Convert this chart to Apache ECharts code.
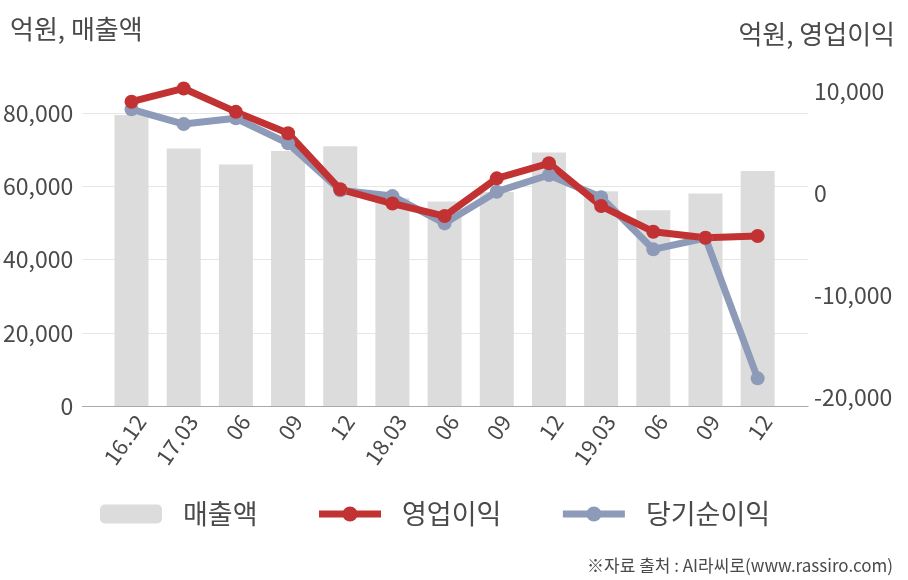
<!DOCTYPE html>
<html>
<head>
<meta charset="utf-8">
<script src="https://cdn.jsdelivr.net/npm/echarts@6/dist/echarts.min.js"></script>
<style>
html,body{margin:0;padding:0;background:#fff;}
#chart{width:908px;height:580px;}
</style>
</head>
<body>
<div id="chart"></div>
<script>
const categories = ['16.12','17.03','06','09','12','18.03','06','09','12','19.03','06','09','12'];
const sales = [79500, 70400, 66000, 69700, 71000, 56800, 55900, 58500, 69300, 58700, 53500, 58100, 64200];
const operatingProfit = [9000, 10300, 8000, 5900, 400, -1000, -2230, 1470, 2950, -1250, -3770, -4360, -4190];
const netProfit = [8250, 6800, 7370, 4910, 300, -270, -2950, 160, 1800, -390, -5500, -4390, -18170];
const leftTicks = [0, 20000, 40000, 60000, 80000];
const rightTicks = [-20000, -10000, 0, 10000];

const FONT = '"Noto Sans CJK KR", "Noto Sans", sans-serif';
const TXT = '#4a4a4a';
const idx = categories.map((c, i) => i);
const pair = arr => arr.map((v, i) => [idx[i], v]);
const fmt = v => v.toLocaleString('en-US');

const chart = echarts.init(document.getElementById('chart'), null, {renderer: 'canvas'});
chart.setOption({
  animation: false,
  backgroundColor: '#ffffff',
  textStyle: {fontFamily: FONT},
  title: [
    {text: '억원, 매출액', left: 10, top: 16, padding: 0, textStyle: {fontFamily: FONT, fontSize: 26, fontWeight: 'normal', color: TXT}},
    {text: '억원, 영업이익', right: 13, top: 21, padding: 0, textStyle: {fontFamily: FONT, fontSize: 26, fontWeight: 'normal', color: TXT}},
    {text: '※자료 출처 : AI라씨로(www.rassiro.com)', right: 15, top: 557, padding: 0, textStyle: {fontFamily: FONT, fontSize: 17, fontWeight: 'normal', color: TXT}}
  ],
  legend: {
    left: 100, top: 500, padding: 0,
    itemWidth: 62, itemHeight: 19, itemGap: 58,
    data: ['매출액', '영업이익', '당기순이익'],
    lineStyle: {width: 7},
    textStyle: {fontFamily: FONT, fontSize: 27, color: TXT, padding: [0, 0, 0, 16], lineHeight: 28}
  },
  grid: {left: 82, right: 100, top: 76.7, bottom: 174},
  xAxis: {
    type: 'value',
    min: -0.945, max: 12.965,
    axisLine: {show: true, lineStyle: {color: '#aaaaaa', width: 1}},
    axisTick: {show: false, customValues: idx},
    splitLine: {show: false},
    axisLabel: {
      customValues: idx,
      rotate: 55, margin: 5,
      verticalAlign: 'top',
      fontFamily: FONT, fontSize: 22, color: TXT,
      formatter: v => categories[Math.round(v)]
    }
  },
  yAxis: [
    {
      type: 'value', position: 'left', min: 0, max: 90000,
      axisLine: {show: false}, axisTick: {show: false, customValues: leftTicks},
      splitLine: {show: true, lineStyle: {color: '#e6e6e6', width: 1}},
      axisLabel: {customValues: leftTicks, margin: 9, fontFamily: FONT, fontSize: 23, color: TXT, formatter: fmt}
    },
    {
      type: 'value', position: 'right', min: -20884, max: 11454,
      axisLine: {show: false}, axisTick: {show: false, customValues: rightTicks},
      splitLine: {show: false},
      axisLabel: {customValues: rightTicks, margin: 6, fontFamily: FONT, fontSize: 23, color: TXT, formatter: fmt}
    }
  ],
  series: [
    {
      name: '매출액', type: 'bar', yAxisIndex: 0, barWidth: 34,
      itemStyle: {color: '#dcdcdc'},
      data: pair(sales)
    },
    {
      name: '당기순이익', type: 'line', yAxisIndex: 1,
      symbol: 'circle', symbolSize: 14,
      lineStyle: {color: '#8d9ab8', width: 7},
      itemStyle: {color: '#8d9ab8'},
      data: pair(netProfit)
    },
    {
      name: '영업이익', type: 'line', yAxisIndex: 1,
      symbol: 'circle', symbolSize: 14,
      lineStyle: {color: '#c23232', width: 7},
      itemStyle: {color: '#c23232'},
      data: pair(operatingProfit)
    }
  ]
});
</script>
</body>
</html>
